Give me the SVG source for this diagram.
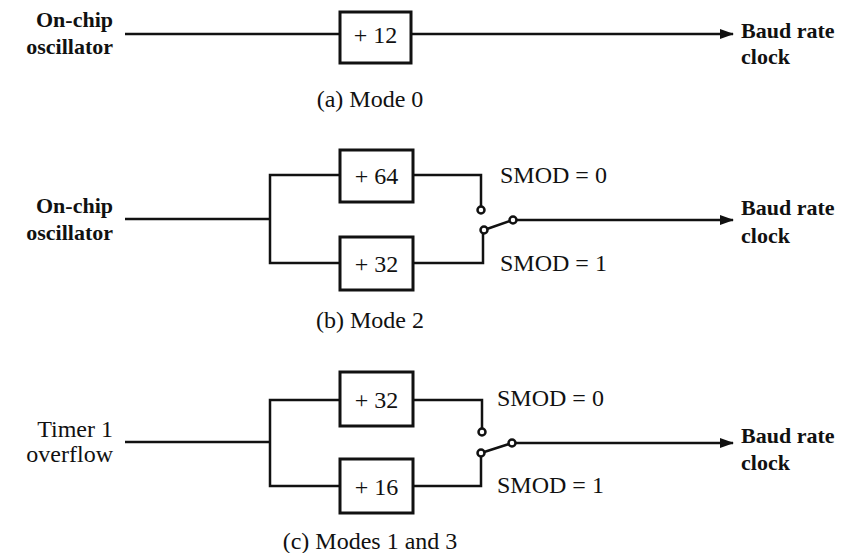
<svg xmlns="http://www.w3.org/2000/svg" width="851" height="553" viewBox="0 0 851 553">
<style>
text{font-family:"Liberation Serif","Times New Roman",serif;font-size:24px;fill:#111}
.b{font-weight:bold;font-size:22px}
.box{fill:#fff;stroke:#111;stroke-width:3}
.w{fill:none;stroke:#111;stroke-width:2.5}
.c{fill:#fff;stroke:#111;stroke-width:2.5}
</style>
<defs>
<marker id="ah" markerWidth="14" markerHeight="10" refX="13" refY="5" orient="auto" markerUnits="userSpaceOnUse">
<path d="M0,0 L14,5 L0,10 Z" fill="#111"/>
</marker>
</defs>
<rect width="851" height="553" fill="#fff"/>
<g id="connectors">
<line class="w" x1="125" y1="34" x2="340" y2="34"/>
<line class="w" x1="411" y1="34" x2="733" y2="34" marker-end="url(#ah)"/>
<path class="w" d="M125,219 H270 M340,175 H270 V263 H340 M413,175 H481 V207 M413,263 H483 V233 M484,230 L510,221"/>
<line class="w" x1="516" y1="220" x2="733" y2="220" marker-end="url(#ah)"/>
<path class="w" d="M125,442 H270 M340,400 H270 V486 H340 M413,400 H482 V429 M413,486 H481 V456 M481,453 L509,444"/>
<line class="w" x1="515" y1="443" x2="733" y2="443" marker-end="url(#ah)"/>
<circle class="c" cx="481" cy="210" r="3.5"/>
<circle class="c" cx="484" cy="230" r="3.5"/>
<circle class="c" cx="513" cy="220" r="3.5"/>
<circle class="c" cx="482" cy="432" r="3.5"/>
<circle class="c" cx="481" cy="453" r="3.5"/>
<circle class="c" cx="512" cy="443" r="3.5"/>
</g>
<g id="mode0">
<text class="b" x="113" y="27" text-anchor="end">On-chip</text>
<text class="b" x="113" y="54" text-anchor="end">oscillator</text>
<g id="div12"><rect class="box" x="340" y="12" width="71" height="51"/><text x="375.5" y="43" text-anchor="middle">+ 12</text></g>
<text class="b" x="741" y="38">Baud rate</text>
<text class="b" x="741" y="64">clock</text>
<text x="370" y="107" text-anchor="middle">(a) Mode 0</text>
</g>
<g id="mode2">
<text class="b" x="113" y="213" text-anchor="end">On-chip</text>
<text class="b" x="113" y="240" text-anchor="end">oscillator</text>
<g id="div64"><rect class="box" x="340" y="150" width="73" height="52"/><text x="376.5" y="184" text-anchor="middle">+ 64</text></g>
<g id="div32a"><rect class="box" x="340" y="237" width="73" height="53"/><text x="376.5" y="272" text-anchor="middle">+ 32</text></g>
<text x="500" y="183">SMOD = 0</text>
<text x="500" y="271">SMOD = 1</text>
<text class="b" x="741" y="215">Baud rate</text>
<text class="b" x="741" y="243">clock</text>
<text x="370" y="328" text-anchor="middle">(b) Mode 2</text>
</g>
<g id="mode13">
<text x="113" y="437" text-anchor="end">Timer 1</text>
<text x="113" y="462" text-anchor="end">overflow</text>
<g id="div32b"><rect class="box" x="340" y="372" width="73" height="54"/><text x="376.5" y="408" text-anchor="middle">+ 32</text></g>
<g id="div16"><rect class="box" x="340" y="459" width="73" height="54"/><text x="376.5" y="495" text-anchor="middle">+ 16</text></g>
<text x="497" y="406">SMOD = 0</text>
<text x="497" y="493">SMOD = 1</text>
<text class="b" x="741" y="443">Baud rate</text>
<text class="b" x="741" y="470">clock</text>
<text x="370" y="549" text-anchor="middle">(c) Modes 1 and 3</text>
</g>
</svg>
